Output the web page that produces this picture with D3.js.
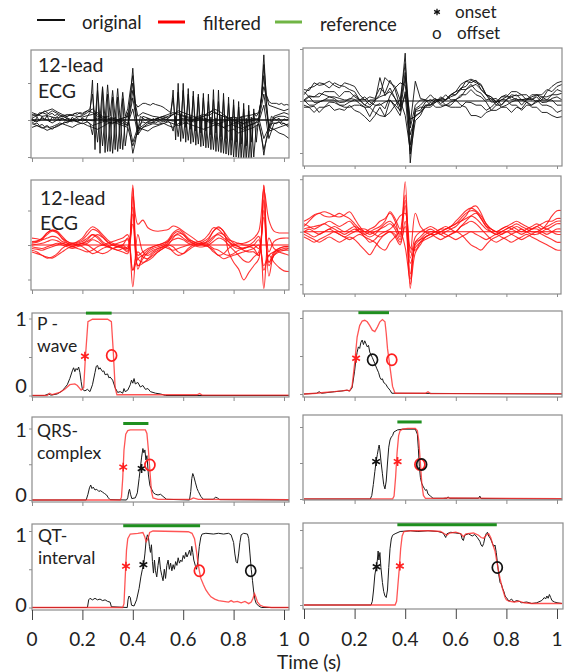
<!DOCTYPE html>
<html>
<head>
<meta charset="utf-8">
<script src="https://d3js.org/d3.v7.min.js"></script>
<style>
body { margin: 0; background: #fff; }
svg { display: block; font-family: Lato, "Open Sans", sans-serif; }
</style>
</head>
<body>
<svg id="chart" width="569" height="672"></svg>
<script>
// ---- data ----
var timeTicks = [0, 0.2, 0.4, 0.6, 0.8, 1];
var timeTickLabels = ["0", "0.2", "0.4", "0.6", "0.8", "1"];
var probTicks = [0, 0.5, 1];
var ecgTicks = [-100, 0, 100];   // hundredths of mV
var rowLabels = [["12-lead", "ECG"], ["12-lead", "ECG"], ["P -", "wave"], ["QRS-", "complex"], ["QT-", "interval"]];

// original ECG, left record: leads with noise bursts (0.01 s step)
var origLeftBurst = [
  [5,-5,8,-3,10,0,12,-5,8,2,10,-3,5,0,6,-4,8,-2,4,0,6,-2,10,20,
   108,-80,100,-90,85,-88,70,-85,62,-80,62,-78,58,-70,
   -20,60,140,40,-30,10,5,
   0,5,-3,4,0,6,-2,3,0,5,10,
   81,-54,99,-58,99,-60,85,-64,78,-68,62,-72,72,-75,70,-80,82,-85,81,-88,72,-92,62,-95,55,-100,50,-108,45,-112,40,-108,30,
   -60,10,60,176,50,-20,10,5,0,5,-5,3,0,4],
  [-5,-10,-8,-15,-12,-18,-15,-20,-18,-15,-12,-8,-10,-5,-8,-3,-5,0,-4,2,-3,0,-5,-10,
   -40,10,-60,15,-70,10,-85,5,-90,8,-85,5,-80,0,
   20,-40,-90,-60,-20,-10,-5,
   -8,-5,-10,-6,-8,-4,-6,-3,-5,-2,-10,
   -30,10,-45,15,-50,12,-55,10,-60,8,-65,10,-70,5,-75,8,-80,5,-85,10,-90,5,-95,8,-100,5,-105,10,-110,5,-113,8,-100,
   -20,-10,-40,-95,-50,-20,-10,-8,-10,-5,-12,-8,-15,-20],
  [10,15,12,20,18,25,20,15,18,12,15,10,12,8,10,15,12,18,15,20,18,22,25,30,
   70,0,80,5,90,0,95,10,80,5,85,0,75,10,
   30,80,120,45,35,40,45,
   45,42,40,45,42,40,38,35,30,25,20,
   60,-10,75,-15,80,-20,70,-25,65,-30,70,-35,60,-30,50,-40,55,-35,50,-45,55,-50,45,-55,40,-60,35,-65,30,-70,25,-60,20,
   10,20,50,150,68,50,45,45,45,42,45,40,42,40]
];
// original ECG, left record: remaining leads (0.02 s step)
var origLeftLeads = [
  [5,12,20,15,25,18,10,5,0,8,12,20,30,15,5,-5,-10,0,-5,-15,60,-25,-15,-5,0,5,10,15,20,15,10,5,0,5,10,20,25,15,10,5,0,-5,-10,0,5,0,70,-20,10,15,20,15],
  [-10,-15,-20,-28,-22,-18,-10,-5,0,-5,-10,-5,-15,-10,-5,0,5,0,5,10,-60,-20,-25,-30,-20,-15,-10,-5,-10,-15,-10,-5,0,5,0,-5,-10,-15,-20,-15,-10,-5,-10,-5,0,5,-50,-20,-25,-35,-40,-50],
  [15,10,20,25,30,22,15,10,15,20,15,25,20,10,5,10,5,0,5,10,100,-40,10,5,0,5,10,5,15,25,20,15,10,5,10,15,30,25,15,5,-5,-10,-20,-15,-10,0,120,-30,5,10,10,5],
  [0,-5,5,0,-8,0,5,-3,0,-5,3,0,-2,5,0,-5,-8,-5,0,-10,30,-40,-20,-10,-5,0,5,0,-3,0,5,0,-5,0,5,0,-5,-10,-5,0,-15,-20,-25,-15,-10,-5,40,-50,-10,-5,-10,-15],
  [20,15,10,12,8,5,10,15,12,10,8,12,15,20,10,5,0,-5,-10,-15,80,10,20,15,10,8,5,10,15,20,12,8,5,10,15,12,20,15,10,5,8,5,10,12,15,20,90,40,35,30,25,30],
  [-20,-15,-22,-18,-25,-15,-10,-15,-20,-12,-8,-15,-20,-25,-18,-10,-5,-10,-15,-20,-70,-30,-20,-15,-10,-12,-8,-15,-20,-10,-5,-10,-15,-20,-25,-20,-15,-10,-20,-30,-25,-35,-30,-25,-20,-10,-80,-30,-25,-20,-15,-10]
];
// original ECG, right record (0.02 s step)
var origRightLeads = [
  [12,25,28,35,33,38,30,25,35,32,28,12,2,8,5,25,15,40,22,-12,92,-119,-15,-8,2,0,5,-5,2,8,12,25,28,40,35,30,12,8,-3,8,12,2,5,-8,3,8,12,2,18,28,35,38],
  [22,20,35,30,32,25,35,30,28,22,18,2,-8,-12,-2,45,10,25,5,-10,55,-85,-20,-18,-2,3,-3,8,2,12,18,22,38,35,40,22,12,3,5,-8,3,8,12,2,5,2,8,-3,-2,5,8,2],
  [2,10,8,15,12,8,5,-3,-2,5,3,-5,-12,-30,-10,-5,-15,10,25,35,30,-45,38,5,2,-8,-2,5,2,12,12,22,22,32,20,15,2,5,-8,3,2,12,10,12,2,5,-2,8,8,12,22,18],
  [-8,-12,-10,-22,-12,-8,-18,-15,-18,-8,-18,-22,-30,-40,-28,-12,-30,2,-12,-28,18,-65,-28,-22,-12,-12,-2,2,-8,-12,-12,-12,-2,-3,-8,-8,-18,-12,-2,-12,-12,-22,-12,-15,-2,-12,-12,-22,-22,-28,-32,-30],
  [0,8,-3,-2,2,8,8,5,2,2,12,2,3,-8,2,8,12,18,5,-20,45,-35,-30,-22,-8,-8,3,2,12,2,3,8,22,28,32,22,12,-2,-2,2,8,8,2,3,2,12,12,8,2,12,12,15],
  [-12,-12,-22,-12,-12,-2,-3,-8,-12,-12,-8,-8,-12,-12,-22,-28,-30,-22,-8,2,-28,-95,-18,-12,-12,-2,-12,-12,-8,-8,2,-8,-12,-28,-28,-32,-22,-18,-8,-8,2,-8,-8,-18,-8,-8,2,-8,-8,-12,-22,-18],
  [18,8,8,8,18,18,18,8,18,18,8,2,-8,2,2,12,45,35,28,2,72,-52,-8,2,2,12,2,2,2,12,18,32,38,42,38,32,12,8,-2,8,8,18,18,12,12,2,12,12,22,18,28,32],
  [2,-8,-8,-2,2,2,2,-8,-8,-2,2,2,8,-2,-8,-8,-2,2,-8,-18,12,-102,-38,-28,-8,-8,2,-8,-8,-2,2,12,12,22,12,8,-2,-18,-18,-12,-8,-2,2,2,-2,-8,-2,2,2,2,-8,-8]
];
// filtered ECG, left record (0.02 s step)
var filtLeftLeads = [
  [10,12,18,30,40,35,18,5,0,2,5,10,20,30,22,8,0,-5,-10,-20,174,-60,-40,-20,-10,-5,0,10,30,40,30,15,5,0,2,5,20,35,30,10,-5,-10,-8,-5,-10,-30,172,-50,-20,-10,-5,-5],
  [-20,-25,-30,-35,-38,-30,-20,-10,-5,0,5,0,-10,-20,-25,-20,-10,-5,0,20,-121,30,-20,-30,-20,-10,-5,0,-5,-20,-25,-15,-5,0,0,-5,-15,-30,-25,-10,0,5,0,0,10,25,-126,20,-10,-20,-25,-30],
  [5,8,15,35,43,38,20,10,5,10,20,40,53,45,30,15,5,0,-5,-10,140,60,72,50,42,40,42,45,55,50,40,30,20,10,15,30,50,45,30,15,10,5,5,10,20,40,160,72,40,35,35,35],
  [0,2,5,10,15,12,5,0,-5,0,5,15,30,25,10,0,-10,-15,-10,-5,110,-40,-50,-45,-35,-20,-10,0,20,35,30,15,10,5,5,15,40,50,40,-20,-50,-70,-101,-80,-60,-40,130,-50,-30,-20,-15,-10],
  [-15,-20,-30,-38,-35,-25,-10,0,5,0,-5,-15,-25,-20,-10,-5,0,5,10,15,-72,-20,-35,-40,-30,-20,-10,-5,-20,-30,-25,-10,0,5,0,-5,-20,-30,-40,-35,-30,-25,-20,-15,-10,0,-60,-30,-50,-65,-75,-77],
  [20,18,15,20,25,22,10,5,0,5,10,20,30,20,5,-5,-10,-5,0,-10,60,-30,-20,-10,-5,0,5,10,25,30,20,10,5,0,5,10,25,30,20,10,0,-5,-10,-5,0,-10,100,-20,10,18,20,20],
  [-5,-8,-10,-5,0,5,0,-5,-10,-5,0,5,15,10,0,-5,-10,-15,-20,-25,90,-60,-53,-40,-25,-15,-5,5,15,20,15,5,0,-5,-5,0,10,20,15,0,-15,-30,-45,-50,-35,-20,80,-60,-30,-15,-10,-10],
  [8,10,20,35,43,40,25,10,5,8,15,30,45,40,25,10,0,-5,-8,-15,165,-70,-30,-15,-5,0,5,15,35,45,35,20,10,5,10,20,40,53,40,20,5,-5,-15,-20,-20,-30,174,-90,-25,-10,-5,-5],
  [-10,-12,-15,-10,-5,0,5,0,-5,-10,-15,-20,-15,-5,0,5,10,15,20,30,-73,-40,-30,-25,-15,-10,-5,-10,-15,-10,-5,0,5,10,5,0,-10,-15,-25,-30,-25,-15,-10,-5,0,15,-73,-30,-20,-15,-15,-15]
];
// filtered ECG, right record (0.02 s step)
var filtRightLeads = [
  [10,20,30,35,38,35,30,28,32,38,25,10,0,5,10,20,25,35,20,-10,95,-108,-20,-10,0,5,0,-5,0,5,10,20,30,45,49,35,15,5,0,5,10,5,0,-5,0,5,10,5,15,30,40,40],
  [20,25,32,35,30,28,30,35,30,25,15,5,-5,-10,-5,5,15,20,10,-5,60,-80,-25,-15,-5,0,0,5,5,10,15,25,35,40,38,25,10,5,0,-5,0,5,10,5,0,5,5,0,-5,0,5,5],
  [5,8,10,12,15,10,5,0,-5,0,5,0,-10,-20,-15,-5,0,5,15,30,35,-40,35,10,0,-5,-5,0,5,10,15,20,25,30,25,15,5,0,-5,0,5,10,15,10,5,0,0,5,10,15,20,20],
  [-5,-10,-15,-20,-15,-10,-15,-20,-15,-10,-15,-25,-35,-44,-30,-15,-5,0,-10,-25,20,-60,-30,-20,-15,-10,-5,0,-5,-10,-15,-10,-5,0,-5,-10,-15,-10,-5,-10,-15,-20,-15,-10,-5,-10,-15,-20,-25,-30,-35,-35],
  [0,5,0,-5,0,5,10,5,0,5,10,5,0,-5,0,5,10,15,5,-15,50,-30,-35,-20,-10,-5,0,5,10,5,0,10,20,30,35,25,10,0,-5,0,5,10,5,0,5,10,15,10,5,10,15,15],
  [-10,-15,-20,-15,-10,-5,0,-5,-10,-15,-10,-5,-10,-15,-20,-30,-35,-20,-10,0,-30,-90,-20,-15,-10,-5,-10,-15,-10,-5,0,-5,-15,-25,-30,-35,-25,-15,-10,-5,0,-5,-10,-15,-10,-5,0,-5,-10,-15,-20,-20],
  [15,10,5,10,15,20,15,10,15,20,10,0,-5,0,5,10,20,38,25,5,70,-50,-10,0,5,10,5,0,5,10,20,30,40,45,40,30,15,5,0,5,10,15,20,15,10,5,10,15,20,20,25,25],
  [0,-5,-10,-5,0,5,0,-5,-10,-5,0,5,5,0,-5,-10,-5,0,-5,-20,10,-100,-40,-25,-10,-5,0,-5,-10,-5,0,10,15,20,15,5,-5,-15,-20,-15,-10,-5,0,5,0,-5,-5,0,5,0,-5,-5]
];

// detector outputs [time s, probability]
var pLeftOrig = [[0,0],[0.05,0],[0.065,0.02],[0.075,0.005],[0.1,0.02],[0.12,0.06],[0.13,0.1],[0.14,0.14],[0.15,0.22],[0.16,0.32],[0.165,0.36],[0.17,0.31],[0.175,0.35],[0.18,0.33],[0.185,0.37],[0.19,0.3],[0.195,0.18],[0.2,0.08],[0.21,0.06],[0.22,0.08],[0.23,0.05],[0.24,0.14],[0.25,0.3],[0.255,0.38],[0.26,0.39],[0.265,0.34],[0.27,0.36],[0.28,0.31],[0.285,0.32],[0.29,0.27],[0.3,0.28],[0.305,0.23],[0.31,0.24],[0.32,0.2],[0.33,0.1],[0.34,0.04],[0.35,0.05],[0.36,0.03],[0.365,0.09],[0.37,0.05],[0.38,0.07],[0.39,0.14],[0.395,0.2],[0.4,0.16],[0.405,0.22],[0.41,0.15],[0.42,0.17],[0.43,0.11],[0.44,0.13],[0.45,0.08],[0.46,0.09],[0.47,0.05],[0.49,0.03],[0.51,0.02],[0.53,0],[1.02,0]];
var pLeftFilt = [[0,0],[0.06,0],[0.07,0.03],[0.08,0.01],[0.11,0.04],[0.13,0.08],[0.15,0.14],[0.17,0.15],[0.18,0.13],[0.195,0.07],[0.205,0.1],[0.212,0.5],[0.222,0.96],[0.24,0.99],[0.3,0.99],[0.315,0.96],[0.322,0.6],[0.33,0.1],[0.337,0.01],[0.655,0.01],[0.665,0.025],[0.675,0.005],[1.02,0.005]];
var pRightOrig = [[0,0],[0.05,0.01],[0.06,0.03],[0.07,0.01],[0.12,0.03],[0.15,0.04],[0.17,0.05],[0.18,0.04],[0.19,0.08],[0.2,0.3],[0.205,0.45],[0.21,0.55],[0.215,0.62],[0.22,0.6],[0.225,0.68],[0.23,0.71],[0.235,0.65],[0.24,0.7],[0.245,0.66],[0.25,0.62],[0.255,0.64],[0.26,0.55],[0.27,0.48],[0.28,0.4],[0.287,0.34],[0.295,0.28],[0.3,0.22],[0.305,0.19],[0.31,0.2],[0.315,0.15],[0.32,0.14],[0.325,0.12],[0.33,0.09],[0.34,0.05],[0.347,0.01],[1.02,0]];
var pRightFilt = [[0,0],[0.05,0.01],[0.08,0.02],[0.12,0.03],[0.15,0.04],[0.17,0.05],[0.18,0.04],[0.19,0.1],[0.2,0.4],[0.21,0.75],[0.22,0.9],[0.23,0.96],[0.24,0.97],[0.25,0.95],[0.26,0.9],[0.27,0.84],[0.28,0.82],[0.29,0.88],[0.3,0.95],[0.31,0.98],[0.32,0.95],[0.325,0.8],[0.33,0.6],[0.34,0.35],[0.35,0.1],[0.36,0.01],[0.48,0.01],[0.49,0.03],[0.5,0.005],[1.02,0.005]];

var qrsLeftOrig = [[0,0],[0.215,0],[0.222,0.08],[0.228,0.17],[0.233,0.21],[0.238,0.16],[0.243,0.18],[0.25,0.14],[0.257,0.15],[0.265,0.12],[0.272,0.13],[0.28,0.11],[0.288,0.09],[0.296,0.07],[0.303,0.03],[0.31,0.005],[0.375,0],[0.38,0.03],[0.384,0.12],[0.387,0.15],[0.391,0.08],[0.396,0.02],[0.41,0.03],[0.418,0.1],[0.425,0.3],[0.43,0.45],[0.435,0.6],[0.44,0.72],[0.444,0.66],[0.448,0.7],[0.452,0.56],[0.456,0.62],[0.462,0.35],[0.468,0.2],[0.475,0.15],[0.482,0.1],[0.49,0.08],[0.5,0.07],[0.51,0.08],[0.52,0.05],[0.534,0.01],[0.625,0],[0.63,0.12],[0.634,0.3],[0.638,0.37],[0.642,0.33],[0.648,0.25],[0.655,0.16],[0.66,0.12],[0.67,0.05],[0.68,0.01],[0.72,0.01],[0.728,0.04],[0.735,0.03],[0.745,0.005],[1.02,0]];
var qrsLeftFilt = [[0,0],[0.35,0],[0.355,0.04],[0.36,0.3],[0.365,0.7],[0.372,0.92],[0.38,0.97],[0.39,0.98],[0.45,0.98],[0.456,0.93],[0.462,0.7],[0.468,0.4],[0.474,0.12],[0.48,0.03],[0.5,0.01],[0.63,0.01],[0.64,0.03],[0.66,0.01],[1.02,0.005]];
var qrsRightOrig = [[0,0],[0.262,0],[0.268,0.05],[0.274,0.2],[0.28,0.38],[0.285,0.52],[0.29,0.62],[0.294,0.7],[0.297,0.75],[0.3,0.68],[0.305,0.5],[0.31,0.35],[0.315,0.2],[0.32,0.14],[0.325,0.25],[0.33,0.5],[0.335,0.72],[0.34,0.82],[0.345,0.86],[0.35,0.88],[0.355,0.93],[0.36,0.94],[0.37,0.96],[0.39,0.97],[0.44,0.97],[0.448,0.9],[0.452,0.7],[0.456,0.45],[0.46,0.3],[0.465,0.22],[0.47,0.18],[0.475,0.15],[0.48,0.12],[0.485,0.13],[0.49,0.07],[0.5,0.04],[0.51,0.01],[0.565,0.01],[0.57,0.03],[0.575,0.01],[0.69,0.01],[0.695,0.04],[0.7,0.005],[1.02,0]];
var qrsRightFilt = [[0,0],[0.35,0],[0.356,0.04],[0.362,0.3],[0.368,0.65],[0.374,0.88],[0.38,0.95],[0.39,0.97],[0.41,0.98],[0.44,0.98],[0.448,0.95],[0.454,0.8],[0.46,0.5],[0.466,0.2],[0.472,0.05],[0.48,0.01],[0.55,0.01],[0.56,0.015],[1.02,0.005]];

var qtLeftOrig = [[0,0],[0.22,0],[0.225,0.1],[0.23,0.12],[0.24,0.1],[0.25,0.12],[0.26,0.1],[0.27,0.11],[0.28,0.09],[0.29,0.1],[0.3,0.08],[0.31,0.07],[0.315,0.01],[0.378,0],[0.381,0.1],[0.385,0.15],[0.39,0.13],[0.395,0.03],[0.405,0.02],[0.415,0.1],[0.425,0.25],[0.432,0.4],[0.438,0.5],[0.443,0.56],[0.448,0.7],[0.453,0.88],[0.458,0.95],[0.462,0.92],[0.466,0.8],[0.47,0.72],[0.474,0.82],[0.478,0.6],[0.482,0.45],[0.486,0.62],[0.49,0.48],[0.495,0.4],[0.5,0.55],[0.505,0.66],[0.51,0.5],[0.515,0.42],[0.52,0.35],[0.525,0.5],[0.53,0.38],[0.535,0.55],[0.54,0.62],[0.545,0.5],[0.55,0.58],[0.555,0.48],[0.56,0.56],[0.565,0.5],[0.57,0.6],[0.575,0.55],[0.58,0.65],[0.585,0.58],[0.59,0.62],[0.595,0.6],[0.6,0.68],[0.605,0.64],[0.61,0.72],[0.615,0.66],[0.62,0.7],[0.625,0.75],[0.63,0.68],[0.634,0.8],[0.638,0.72],[0.642,0.62],[0.648,0.55],[0.653,0.5],[0.658,0.6],[0.664,0.8],[0.67,0.92],[0.675,0.96],[0.69,0.97],[0.72,0.96],[0.74,0.97],[0.76,0.96],[0.78,0.97],[0.79,0.95],[0.8,0.85],[0.805,0.7],[0.81,0.6],[0.815,0.58],[0.82,0.7],[0.825,0.85],[0.83,0.95],[0.84,0.97],[0.855,0.96],[0.86,0.9],[0.865,0.7],[0.87,0.5],[0.875,0.35],[0.88,0.2],[0.885,0.1],[0.89,0.05],[0.9,0.02],[0.91,0],[1.02,0]];
var qtLeftFilt = [[0,0],[0.36,0],[0.365,0.05],[0.37,0.4],[0.375,0.75],[0.38,0.9],[0.39,0.96],[0.42,0.97],[0.44,0.98],[0.447,0.93],[0.453,0.86],[0.46,0.9],[0.467,0.98],[0.48,1.0],[0.62,0.99],[0.635,0.97],[0.645,0.9],[0.652,0.75],[0.658,0.6],[0.664,0.48],[0.67,0.38],[0.68,0.3],[0.69,0.23],[0.7,0.18],[0.71,0.14],[0.725,0.11],[0.74,0.09],[0.76,0.08],[0.78,0.07],[0.79,0.09],[0.8,0.07],[0.815,0.08],[0.83,0.06],[0.845,0.08],[0.86,0.05],[0.87,0.07],[0.877,0.12],[0.883,0.18],[0.888,0.14],[0.895,0.07],[0.905,0.03],[0.92,0.01],[0.95,0],[1.02,0]];
var qtRightOrig = [[0,0],[0.265,0],[0.27,0.05],[0.275,0.2],[0.28,0.4],[0.285,0.5],[0.29,0.6],[0.293,0.72],[0.296,0.6],[0.3,0.7],[0.304,0.5],[0.31,0.3],[0.315,0.18],[0.32,0.12],[0.325,0.1],[0.33,0.2],[0.335,0.5],[0.34,0.75],[0.345,0.88],[0.35,0.93],[0.36,0.95],[0.38,0.98],[0.42,0.99],[0.45,0.98],[0.49,0.99],[0.53,0.98],[0.55,0.96],[0.56,0.9],[0.565,0.95],[0.58,0.97],[0.6,0.96],[0.62,0.95],[0.625,0.88],[0.63,0.86],[0.635,0.93],[0.65,0.95],[0.665,0.92],[0.675,0.94],[0.685,0.9],[0.695,0.85],[0.7,0.8],[0.705,0.78],[0.71,0.82],[0.715,0.9],[0.72,0.95],[0.725,0.97],[0.73,0.92],[0.738,0.88],[0.745,0.82],[0.75,0.78],[0.755,0.8],[0.76,0.7],[0.765,0.55],[0.77,0.4],[0.775,0.3],[0.78,0.28],[0.785,0.22],[0.79,0.18],[0.795,0.12],[0.8,0.1],[0.81,0.05],[0.82,0.08],[0.83,0.04],[0.84,0.06],[0.85,0.05],[0.86,0.03],[0.88,0.04],[0.9,0.02],[0.92,0.03],[0.94,0.06],[0.95,0.1],[0.955,0.08],[0.96,0.12],[0.965,0.09],[0.97,0.14],[0.975,0.1],[0.98,0.06],[0.99,0.04],[1.0,0.03],[1.02,0.02]];
var qtRightFilt = [[0,0],[0.36,0],[0.366,0.05],[0.372,0.3],[0.377,0.5],[0.382,0.75],[0.388,0.92],[0.395,0.98],[0.42,0.99],[0.5,0.99],[0.54,0.98],[0.555,0.95],[0.565,0.93],[0.575,0.96],[0.6,0.97],[0.62,0.95],[0.63,0.91],[0.64,0.95],[0.67,0.96],[0.69,0.93],[0.7,0.9],[0.71,0.89],[0.72,0.93],[0.73,0.95],[0.738,0.9],[0.745,0.82],[0.755,0.72],[0.762,0.58],[0.768,0.47],[0.775,0.35],[0.782,0.25],[0.788,0.18],[0.795,0.1],[0.8,0.07],[0.81,0.05],[0.83,0.04],[0.85,0.05],[0.87,0.03],[0.9,0.02],[0.95,0.02],[1.02,0.02]];

// reference interval [start, end] in s
var refP = [[0.214, 0.316], [0.215, 0.336]];
var refQRS = [[0.362, 0.462], [0.369, 0.465]];
var refQT = [[0.362, 0.667], [0.369, 0.762]];

// markers: [time, prob, kind, source]
var markP = [[[0.21, 0.51, "on", "filt"], [0.316, 0.52, "off", "filt"]],
             [[0.206, 0.47, "on", "filt"], [0.271, 0.45, "off", "orig"], [0.347, 0.45, "off", "filt"]]];
var markQRS = [[[0.362, 0.46, "on", "filt"], [0.435, 0.44, "on", "orig"], [0.468, 0.49, "off", "filt"]],
               [[0.285, 0.52, "on", "orig"], [0.37, 0.52, "on", "filt"], [0.458, 0.48, "off", "filt"], [0.465, 0.48, "off", "orig"]]];
var markQT = [[[0.373, 0.54, "on", "filt"], [0.442, 0.56, "on", "orig"], [0.664, 0.48, "off", "filt"], [0.868, 0.48, "off", "orig"]],
              [[0.287, 0.51, "on", "orig"], [0.379, 0.52, "on", "filt"], [0.764, 0.5, "off", "orig"]]];

// ---- drawing ----
var svg = d3.select("#chart");
var colOrig = "#111", colFilt = "#ff1010", colRef = "#1f8f1f";
var clipCount = 0;
var star = d3.symbol().type(d3.symbolAsterisk).size(55);

// box: panel frame, t0/t1: pixel of 0 s and 1 s, yA/yB: pixel of value 0 and value unit
function makePanel(box, t0, t1, yA, yB, unit) {
  var x = d3.scaleLinear().domain([0, 1]).range([t0, t1]);
  var y = d3.scaleLinear().domain([0, unit]).range([yA, yB]);
  clipCount++;
  svg.append("clipPath").attr("id", "clip" + clipCount)
    .append("rect")
    .attr("x", box[0]).attr("y", box[2])
    .attr("width", box[1] - box[0]).attr("height", box[3] - box[2]);
  var g = svg.append("g");
  var inner = g.append("g").attr("clip-path", "url(#clip" + clipCount + ")");
  return {x: x, y: y, g: g, inner: inner, box: box};
}

function frame(p, yTicks, bottomTick) {
  p.g.append("rect")
    .attr("x", p.box[0]).attr("y", p.box[2])
    .attr("width", p.box[1] - p.box[0]).attr("height", p.box[3] - p.box[2])
    .attr("fill", "none").attr("stroke", "#8c8c8c").attr("stroke-width", 1.2);
  var xa = p.g.append("g")
    .attr("transform", "translate(0," + p.box[3] + ")")
    .call(d3.axisBottom(p.x).tickValues(timeTicks).tickSize(bottomTick).tickFormat(""));
  xa.select(".domain").remove();
  xa.selectAll("line").attr("stroke", bottomTick > 5 ? "#444" : "#8c8c8c");
  var ya = p.g.append("g")
    .attr("transform", "translate(" + p.box[0] + ",0)")
    .call(d3.axisLeft(p.y).tickValues(yTicks).tickSize(3).tickFormat(""));
  ya.select(".domain").remove();
  ya.selectAll("line").attr("stroke", "#8c8c8c");
}

function drawLeads(p, leads, color, width, smooth) {
  // zero line drawn in lead colour
  p.inner.append("line")
    .attr("x1", p.box[0]).attr("x2", p.box[1])
    .attr("y1", p.y(0)).attr("y2", p.y(0))
    .attr("stroke", color).attr("stroke-width", width);
  leads.forEach(function (vals) {
    var step = 1.02 / (vals.length - 1);
    var line = d3.line()
      .x(function (d, i) { return p.x(i * step); })
      .y(function (d) { return p.y(d); });
    if (smooth) line.curve(d3.curveCatmullRom.alpha(0.5));
    p.inner.append("path")
      .datum(vals)
      .attr("d", line)
      .attr("fill", "none")
      .attr("stroke", color)
      .attr("stroke-width", width)
      .attr("stroke-opacity", smooth ? 0.85 : 0.9)
      .attr("stroke-linejoin", "round");
  });
}

function drawProb(p, orig, filt, ref, marks) {
  var line = d3.line()
    .x(function (d) { return p.x(d[0]); })
    .y(function (d) { return p.y(d[1]); });
  p.inner.append("path").datum(orig).attr("d", line)
    .attr("fill", "none").attr("stroke", "#1a1a1a").attr("stroke-width", 1);
  p.inner.append("path").datum(filt).attr("d", line)
    .attr("fill", "none").attr("stroke", "#ff2a2a").attr("stroke-opacity", 0.8).attr("stroke-width", 1.3);
  p.g.append("line")
    .attr("x1", p.x(ref[0])).attr("x2", p.x(ref[1]))
    .attr("y1", p.y(1.07)).attr("y2", p.y(1.07))
    .attr("stroke", colRef).attr("stroke-width", 3);
  marks.forEach(function (m) {
    var c = m[3] == "filt" ? "#ff2020" : "#111";
    if (m[2] == "on") {
      p.g.append("path")
        .attr("d", star)
        .attr("transform", "translate(" + p.x(m[0]) + "," + p.y(m[1]) + ")")
        .attr("fill", "none").attr("stroke", c).attr("stroke-width", 1.6);
    } else {
      p.g.append("ellipse")
        .attr("cx", p.x(m[0])).attr("cy", p.y(m[1]))
        .attr("rx", 5).attr("ry", 5.6)
        .attr("fill", "none").attr("stroke", c).attr("stroke-width", 1.7);
    }
  });
}

function label(lines, x, y0, y1, size) {
  svg.append("text").attr("x", x).attr("y", y0).attr("font-size", size).attr("fill", "#222").text(lines[0]);
  svg.append("text").attr("x", x).attr("y", y1).attr("font-size", size).attr("fill", "#222").text(lines[1]);
}

// row 1: original ECG
var p1L = makePanel([31, 289, 50, 158], 32, 284, 120, 83, 100);
frame(p1L, ecgTicks, 4);
drawLeads(p1L, origLeftLeads, colOrig, 1, false);
drawLeads(p1L, origLeftBurst, colOrig, 1, false);
var p1R = makePanel([303, 562, 48, 166], 304, 557, 101, 49, 100);
frame(p1R, ecgTicks, 3);
drawLeads(p1R, origRightLeads, colOrig, 1, false);

// row 2: filtered ECG
var p2L = makePanel([31, 289, 180, 290], 32, 284, 245, 210.5, 100);
frame(p2L, ecgTicks, 4);
drawLeads(p2L, filtLeftLeads, colFilt, 1.1, true);
var p2R = makePanel([303, 561, 176, 294], 304, 557, 231.7, 179.2, 100);
frame(p2R, ecgTicks, 3);
drawLeads(p2R, filtRightLeads, colFilt, 1.1, true);

// rows 3-5: detector outputs
var p3L = makePanel([32, 289, 313, 397], 32, 284, 395.5, 318.5, 1);
frame(p3L, probTicks, 4);
drawProb(p3L, pLeftOrig, pLeftFilt, refP[0], markP[0]);
var p3R = makePanel([303, 562, 311, 397], 304, 557, 394, 318, 1);
frame(p3R, probTicks, 4);
drawProb(p3R, pRightOrig, pRightFilt, refP[1], markP[1]);

var p4L = makePanel([32, 289, 417, 502], 32, 284, 500, 428.5, 1);
frame(p4L, probTicks, 4);
drawProb(p4L, qrsLeftOrig, qrsLeftFilt, refQRS[0], markQRS[0]);
var p4R = makePanel([303, 562, 415, 500], 304, 557, 499, 427, 1);
frame(p4R, probTicks, 4);
drawProb(p4R, qrsRightOrig, qrsRightFilt, refQRS[1], markQRS[1]);

var p5L = makePanel([32, 289, 524, 610], 32, 284, 607.5, 531, 1);
frame(p5L, probTicks, 10);
drawProb(p5L, qtLeftOrig, qtLeftFilt, refQT[0], markQT[0]);
var p5R = makePanel([303, 563, 523, 609], 304, 557, 605, 530, 1);
frame(p5R, probTicks, 10);
drawProb(p5R, qtRightOrig, qtRightFilt, refQT[1], markQT[1]);

// time tick labels under the last row
[p5L, p5R].forEach(function (p) {
  svg.append("g").selectAll("text")
    .data(timeTicks)
    .join("text")
    .attr("x", function (d) { return p.x(d); })
    .attr("y", 645.5)
    .attr("text-anchor", "middle")
    .attr("font-size", 19)
    .attr("fill", "#222")
    .text(function (d, i) { return timeTickLabels[i]; });
});
svg.append("text").attr("x", 309).attr("y", 669).attr("text-anchor", "middle")
  .attr("font-size", 19).attr("fill", "#222").text("Time (s)");

// 0 / 1 labels on left probability panels (baselines as in the figure)
var probLabelBase = [[393, 326], [502, 437], [612, 542]];
probLabelBase.forEach(function (b) {
  svg.append("text").attr("x", 21).attr("y", b[0])
    .attr("text-anchor", "middle").attr("font-size", 20).attr("fill", "#222").text("0");
  svg.append("text").attr("x", 21).attr("y", b[1])
    .attr("text-anchor", "middle").attr("font-size", 20).attr("fill", "#222").text("1");
});

// panel labels
label(rowLabels[0], 38, 71.5, 98, 19.5);
label(rowLabels[1], 40, 205, 230, 19.5);
label(rowLabels[2], 37, 330, 351.5, 17.5);
label(rowLabels[3], 37, 437, 458.5, 17.5);
label(rowLabels[4], 38, 542, 563.5, 17.5);

// legend
var legend = svg.append("g").attr("font-size", 18.5).attr("fill", "#222");
legend.append("line").attr("x1", 37).attr("x2", 65).attr("y1", 20).attr("y2", 20).attr("stroke", "#111").attr("stroke-width", 2);
legend.append("text").attr("x", 82).attr("y", 28.5).text("original");
legend.append("line").attr("x1", 158).attr("x2", 185).attr("y1", 22).attr("y2", 22).attr("stroke", "#ff0000").attr("stroke-width", 3);
legend.append("text").attr("x", 203).attr("y", 30).text("filtered");
legend.append("line").attr("x1", 275).attr("x2", 302).attr("y1", 22).attr("y2", 22).attr("stroke", "#70b545").attr("stroke-width", 3);
legend.append("text").attr("x", 320).attr("y", 31).text("reference");
legend.append("path").attr("d", d3.symbol().type(d3.symbolAsterisk).size(30))
  .attr("transform", "translate(437,12)").attr("fill", "none").attr("stroke", "#111").attr("stroke-width", 1.3);
legend.append("text").attr("x", 455).attr("y", 18).attr("font-size", 17).text("onset");
legend.append("text").attr("x", 432).attr("y", 39).attr("font-size", 17).text("o");
legend.append("text").attr("x", 457).attr("y", 39).attr("font-size", 17).text("offset");
</script>
</body>
</html>
